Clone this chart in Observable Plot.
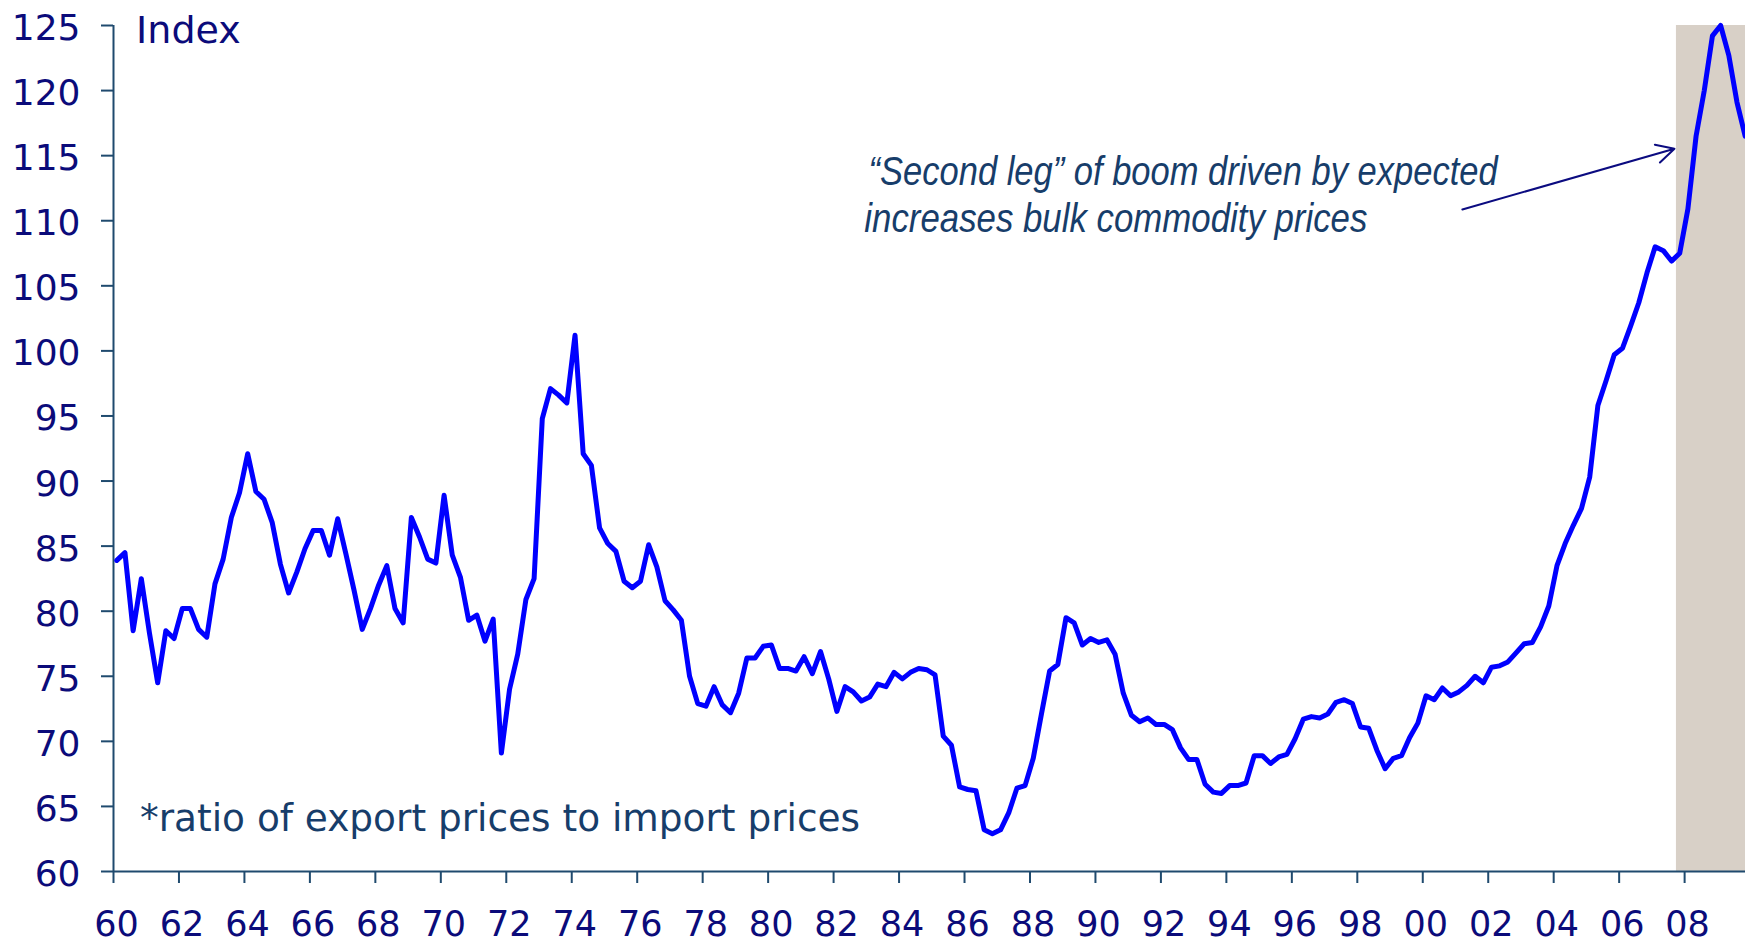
<!DOCTYPE html>
<html>
<head>
<meta charset="utf-8">
<script src="https://cdn.jsdelivr.net/npm/d3@7"></script>
<script src="https://cdn.jsdelivr.net/npm/@observablehq/plot@0.6"></script>
<style>
html, body { margin: 0; padding: 0; background: #ffffff; overflow: hidden; }
#chart svg { display: block; }
</style>
</head>
<body>
<div id="chart"></div>
<script>
// Terms of trade index (ratio of export prices to import prices), quarterly from 1960 Q1
const startYear = 1960;
const index1960s = [
  83.9, 84.5, 78.5, 82.5,  78.3, 74.5, 78.5, 77.9,  80.2, 80.2, 78.6, 78.0,
  82.1, 84.0, 87.2, 89.1,  92.1, 89.2, 88.6, 86.8,  83.6, 81.4, 83.0, 84.8,
  86.2, 86.2, 84.3, 87.1,  84.4, 81.6, 78.6, 80.2,  82.0, 83.5, 80.2, 79.1,
  87.2, 85.7, 84.0, 83.7
];
const index1970s = [
  88.9, 84.3, 82.6, 79.3,  79.7, 77.7, 79.4, 69.1,  74.0, 76.7, 80.9, 82.5,
  94.8, 97.1, 96.6, 96.0,  101.2, 92.1, 91.2, 86.4, 85.2, 84.6, 82.3, 81.8,
  82.3, 85.1, 83.4, 80.8,  80.1, 79.3, 75.0, 72.9,  72.7, 74.2, 72.8, 72.2,
  73.7, 76.4, 76.4, 77.3
];
const index1980s = [
  77.4, 75.6, 75.6, 75.4,  76.5, 75.2, 76.9, 74.8,  72.3, 74.2, 73.8, 73.1,
  73.4, 74.4, 74.2, 75.3,  74.8, 75.3, 75.6, 75.5,  75.1, 70.4, 69.7, 66.5,
  66.3, 66.2, 63.2, 62.9,  63.2, 64.5, 66.4, 66.6,  68.7, 72.1, 75.4, 75.9,
  79.5, 79.1, 77.4, 77.9
];
const index1990s = [
  77.6, 77.8, 76.7, 73.7,  72.0, 71.5, 71.8, 71.3,  71.3, 70.9, 69.5, 68.6,
  68.6, 66.7, 66.1, 66.0,  66.6, 66.6, 66.8, 68.9,  68.9, 68.3, 68.8, 69.0,
  70.2, 71.7, 71.9, 71.8,  72.1, 73.0, 73.2, 72.9,  71.1, 71.0, 69.3, 67.9,
  68.7, 68.9, 70.3, 71.4
];
const index2000s = [
  73.5, 73.2, 74.1, 73.5,  73.8, 74.3, 75.0, 74.5,  75.7, 75.8, 76.1, 76.8,
  77.5, 77.6, 78.8, 80.4,  83.5, 85.2, 86.6, 87.9,  90.3, 95.8, 97.7, 99.7,
  100.2, 101.9, 103.7, 106.0, 108.0, 107.7, 106.9, 107.5, 110.9, 116.5, 120.0, 124.2,
  125.0, 122.7, 119.1, 116.5
];

const xTicks = d3.range(1960, 2009, 2);
const yTicks = d3.range(60, 126, 5);
const xDomain = [1960, 2009.86];
const yDomain = [60, 125];

const shade = [{x1: 2007.75, x2: 2009.86, y1: 60, y2: 125}];
const yLabel = [{x: 1960.69, y: 123.64, text: "Index"}];
const footnote = [{x: 1960.81, y: 63.15, text: "*ratio of export prices to import prices", w: 720}];
const annotation = [
  {x: 1983.07, y: 112.71, text: "\u201CSecond leg\u201D of boom driven by expected", w: 629},
  {x: 1982.94, y: 109.12, text: "increases bulk commodity prices", w: 503}
];
const pointer = [{x1: 2001.21, y1: 110.86, x2: 2007.69, y2: 115.53}];

const allValues = [...index1960s, ...index1970s, ...index1980s, ...index1990s, ...index2000s];
const series = allValues.map((v, i) => ({date: startYear + (i + 0.4) / 4, value: v}));

const navy = "#0b0b7a";
const axisColor = "#1f4a6e";
const noteColor = "#173d6a";

const chart = Plot.plot({
  width: 1745,
  height: 945,
  marginLeft: 113,
  marginRight: 0,
  marginTop: 25,
  marginBottom: 74,
  style: {fontFamily: "DejaVu Sans", background: "#ffffff", color: navy},
  x: {domain: xDomain},
  y: {domain: yDomain},
  marks: [
    Plot.rect(shade, {x1: "x1", x2: "x2", y1: "y1", y2: "y2", fill: "#d8d0c7"}),
    Plot.axisY({ticks: yTicks, tickSize: 12, fill: "none", stroke: axisColor, strokeWidth: 2, label: null}),
    Plot.axisY({ticks: yTicks, tickSize: 0, tickPadding: 33, dy: 3, fill: navy, fontSize: 36, fontFamily: "DejaVu Sans", label: null}),
    Plot.axisX({ticks: xTicks, tickSize: 12, fill: "none", stroke: axisColor, strokeWidth: 2, label: null}),
    Plot.axisX({ticks: xTicks, tickSize: 0, tickPadding: 40, dx: 3, fill: navy, fontSize: 35, fontFamily: "DejaVu Sans",
      tickFormat: d => String(d % 100).padStart(2, "0"), label: null}),
    Plot.ruleY([60], {stroke: axisColor, strokeWidth: 2}),
    Plot.ruleX([1960], {stroke: axisColor, strokeWidth: 2}),
    Plot.text(yLabel, {x: "x", y: "y", text: "text", textAnchor: "start", lineAnchor: "bottom",
      fontSize: 38, fontFamily: "DejaVu Sans", fill: navy}),
    Plot.text(footnote, {x: "x", y: "y", text: "text", textAnchor: "start", lineAnchor: "bottom",
      fontSize: 37, fontFamily: "DejaVu Sans", fill: noteColor}),
    Plot.text(annotation, {x: "x", y: "y", text: "text", textAnchor: "start", lineAnchor: "bottom",
      fontSize: 40, fontStyle: "italic", fontFamily: "Liberation Sans", fill: noteColor}),
    Plot.arrow(pointer, {x1: "x1", y1: "y1", x2: "x2", y2: "y2", stroke: "#0b0b80", strokeWidth: 2,
      headLength: 15, headAngle: 55}),
    Plot.line(series, {x: "date", y: "value", stroke: "#0000ff", strokeWidth: 5, strokeLinejoin: "round"})
  ]
});

const fitted = [...annotation, ...footnote];
d3.select(chart).selectAll("text").each(function () {
  const d = fitted.find(a => a.text === this.textContent);
  if (d) {
    this.setAttribute("textLength", d.w);
    this.setAttribute("lengthAdjust", "spacingAndGlyphs");
  }
});

document.getElementById("chart").appendChild(chart);
</script>
</body>
</html>
